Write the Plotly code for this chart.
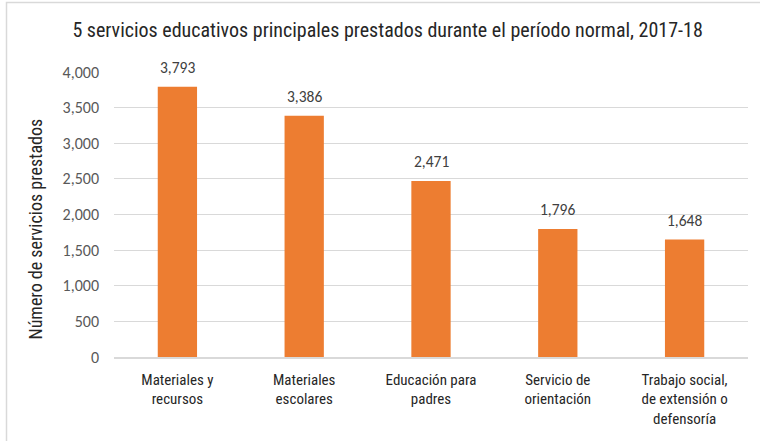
import plotly.graph_objects as go

categories = ["Materiales y<br>recursos", "Materiales<br>escolares", "Educación para<br>padres",
              "Servicio de<br>orientación", "Trabajo social,<br>de extensión o<br>defensoría"]
values = [3793, 3386, 2471, 1796, 1648]
y_ticks = [0, 500, 1000, 1500, 2000, 2500, 3000, 3500, 4000]

W, H = 760, 441
L, R, T, B = 114, 12, 72, 84
pw, ph = W - L - R, H - T - B

narrow = "Liberation Sans Narrow, Arial Narrow, Roboto Condensed, DejaVu Sans Condensed, sans-serif"
cal = "Carlito, Calibri, Lato, Open Sans, sans-serif"

fig = go.Figure(go.Bar(
    x=categories, y=values,
    marker=dict(color="#ED7D31", line=dict(width=0)),
    width=0.31,
    hoverinfo="skip",
))

for c, v in zip(categories, values):
    fig.add_annotation(x=c, y=v, text=f"{v:,}", showarrow=False, yanchor="bottom",
                       yshift=8, font=dict(family=cal, size=15.5, color="#404040"))

# y-axis title
fig.add_annotation(xref="paper", yref="paper", x=(35 - L) / pw, y=(H - B - 229.5) / ph,
                   xanchor="center", yanchor="middle", textangle=-90, showarrow=False,
                   text="Número de servicios prestados",
                   font=dict(family=narrow, size=18, color="#262626"))

fig.update_layout(
    width=W, height=H,
    margin=dict(l=L, r=R, t=T, b=B),
    paper_bgcolor="white", plot_bgcolor="white",
    title=dict(text="5 servicios educativos principales prestados durante el período normal, 2017-18",
               font=dict(family=narrow, size=20, color="#262626"),
               x=0.51, xanchor="center", y=0.933, yanchor="middle"),
    showlegend=False,
    xaxis=dict(showline=True, linecolor="#d9d9d9", linewidth=1.5, ticks="",
               ticklabelstandoff=8,
               tickfont=dict(family=narrow, size=15, color="#262626")),
    yaxis=dict(range=[0, 4000], tickvals=y_ticks, tickformat=",",
               showgrid=True, gridcolor="#d9d9d9", gridwidth=1, zeroline=False,
               tickfont=dict(family=cal, size=16, color="#595959"),
               ticklabelstandoff=14),
    shapes=[dict(type="rect", xref="paper", yref="paper",
                 x0=(6.5 - L) / pw, x1=(W + 20 - L) / pw,
                 y0=(H - B - (H + 20)) / ph, y1=(H - B - 2.5) / ph,
                 line=dict(color="#d9d9d9", width=1.5), fillcolor="rgba(0,0,0,0)", layer="below")],
)

fig.write_html("out.html", config={"displayModeBar": False},
               post_script="document.body.style.margin='0';document.body.style.overflow='hidden';")
